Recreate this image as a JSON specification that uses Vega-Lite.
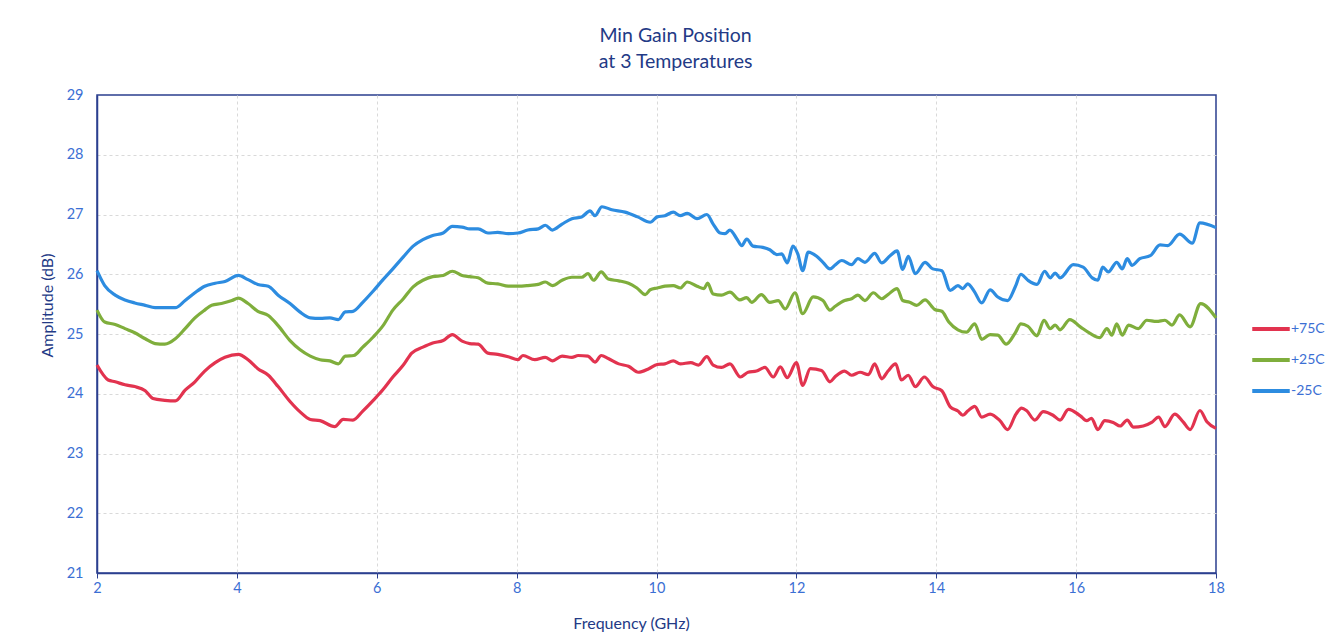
{
"$schema":"https://vega.github.io/schema/vega-lite/v6.json",
"autosize":{"type":"none"},
"padding":{"left":97,"top":95,"right":124,"bottom":66},
"width":1119,"height":478,
"background":"white",
"config":{"font":"Lato","view":{"stroke":"#2b3f8f","strokeWidth":1.5}},
"title":{"text":["Min Gain Position","at 3 Temperatures"],"fontSize":19.5,"fontWeight":"normal","color":"#233a86","lineHeight":26,"offset":15,"anchor":"middle","dx":19,"font":"Lato"},
"datasets":{
"b":[[2.00,26.06],[2.11,25.81],[2.26,25.65],[2.40,25.57],[2.54,25.52],[2.69,25.48],[2.83,25.44],[2.97,25.44],[3.12,25.44],[3.26,25.56],[3.40,25.69],[3.54,25.80],[3.69,25.85],[3.83,25.88],[4.02,25.98],[4.16,25.91],[4.30,25.83],[4.45,25.80],[4.59,25.65],[4.76,25.51],[4.90,25.37],[5.05,25.27],[5.19,25.26],[5.33,25.27],[5.45,25.24],[5.55,25.37],[5.66,25.38],[5.80,25.53],[5.95,25.72],[6.09,25.91],[6.23,26.09],[6.38,26.29],[6.52,26.47],[6.66,26.58],[6.80,26.65],[6.95,26.69],[7.08,26.80],[7.22,26.79],[7.33,26.76],[7.45,26.76],[7.59,26.69],[7.73,26.70],[7.88,26.68],[8.02,26.69],[8.16,26.74],[8.31,26.76],[8.41,26.82],[8.51,26.74],[8.65,26.84],[8.79,26.93],[8.93,26.96],[9.05,27.06],[9.12,26.98],[9.22,27.13],[9.36,27.08],[9.55,27.04],[9.73,26.96],[9.91,26.87],[10.01,26.96],[10.12,26.98],[10.24,27.04],[10.34,26.98],[10.44,27.02],[10.58,26.93],[10.72,27.00],[10.81,26.84],[10.91,26.69],[10.98,26.68],[11.05,26.74],[11.15,26.59],[11.22,26.48],[11.29,26.59],[11.38,26.47],[11.52,26.45],[11.62,26.41],[11.72,26.33],[11.79,26.34],[11.87,26.19],[11.95,26.47],[12.02,26.34],[12.09,26.06],[12.17,26.37],[12.29,26.30],[12.38,26.20],[12.48,26.09],[12.55,26.15],[12.65,26.23],[12.79,26.16],[12.88,26.26],[12.98,26.20],[13.12,26.35],[13.22,26.19],[13.34,26.31],[13.44,26.39],[13.52,26.08],[13.60,26.30],[13.70,26.01],[13.84,26.20],[13.95,26.09],[14.08,26.06],[14.20,25.73],[14.31,25.81],[14.38,25.76],[14.45,25.84],[14.55,25.70],[14.65,25.52],[14.77,25.74],[14.88,25.62],[15.02,25.56],[15.13,25.79],[15.21,26.00],[15.31,25.90],[15.44,25.83],[15.55,26.05],[15.63,25.94],[15.70,26.02],[15.77,25.94],[15.96,26.16],[16.10,26.12],[16.23,25.94],[16.31,25.90],[16.38,26.12],[16.46,26.04],[16.58,26.20],[16.66,26.09],[16.73,26.26],[16.80,26.15],[16.91,26.26],[17.06,26.31],[17.20,26.49],[17.31,26.48],[17.48,26.67],[17.66,26.52],[17.77,26.86],[18.00,26.78]],
"g":[[2.00,25.40],[2.11,25.20],[2.26,25.16],[2.40,25.09],[2.54,25.02],[2.69,24.92],[2.83,24.84],[2.97,24.83],[3.12,24.92],[3.26,25.09],[3.40,25.27],[3.54,25.40],[3.64,25.48],[3.78,25.51],[3.93,25.56],[4.02,25.60],[4.16,25.51],[4.30,25.38],[4.45,25.31],[4.59,25.14],[4.76,24.89],[4.90,24.74],[5.05,24.63],[5.19,24.57],[5.33,24.55],[5.45,24.50],[5.55,24.63],[5.67,24.64],[5.80,24.78],[5.95,24.95],[6.09,25.14],[6.23,25.40],[6.38,25.59],[6.52,25.79],[6.66,25.90],[6.80,25.96],[6.95,25.98],[7.08,26.05],[7.22,25.98],[7.33,25.96],[7.45,25.94],[7.59,25.85],[7.73,25.84],[7.88,25.80],[8.02,25.80],[8.16,25.81],[8.31,25.83],[8.41,25.87],[8.51,25.81],[8.65,25.90],[8.79,25.95],[8.93,25.95],[9.02,26.01],[9.10,25.90],[9.21,26.04],[9.31,25.92],[9.46,25.89],[9.60,25.85],[9.72,25.77],[9.84,25.66],[9.91,25.74],[10.01,25.77],[10.12,25.80],[10.24,25.81],[10.34,25.77],[10.44,25.87],[10.58,25.80],[10.68,25.76],[10.73,25.85],[10.81,25.67],[10.93,25.65],[11.05,25.70],[11.19,25.57],[11.29,25.61],[11.36,25.53],[11.50,25.66],[11.62,25.53],[11.74,25.56],[11.84,25.42],[11.98,25.69],[12.09,25.34],[12.24,25.62],[12.38,25.56],[12.48,25.40],[12.55,25.46],[12.69,25.56],[12.79,25.59],[12.88,25.65],[12.98,25.56],[13.10,25.69],[13.22,25.59],[13.31,25.66],[13.44,25.76],[13.52,25.56],[13.62,25.53],[13.72,25.48],[13.84,25.57],[13.98,25.41],[14.08,25.38],[14.18,25.20],[14.31,25.07],[14.43,25.03],[14.55,25.17],[14.65,24.91],[14.77,24.99],[14.88,24.98],[15.00,24.83],[15.13,25.02],[15.21,25.17],[15.31,25.13],[15.44,24.97],[15.54,25.23],[15.63,25.09],[15.70,25.15],[15.77,25.07],[15.91,25.24],[16.06,25.12],[16.20,25.01],[16.34,24.94],[16.44,25.09],[16.51,24.98],[16.58,25.17],[16.66,24.98],[16.75,25.15],[16.89,25.09],[17.01,25.23],[17.15,25.21],[17.27,25.23],[17.37,25.15],[17.48,25.32],[17.63,25.12],[17.78,25.51],[18.00,25.27]],
"r":[[2.00,24.48],[2.16,24.23],[2.26,24.20],[2.40,24.15],[2.54,24.12],[2.69,24.05],[2.80,23.92],[2.97,23.89],[3.12,23.88],[3.26,24.06],[3.40,24.20],[3.54,24.38],[3.69,24.52],[3.83,24.61],[4.02,24.66],[4.16,24.57],[4.30,24.42],[4.45,24.31],[4.59,24.12],[4.76,23.87],[4.90,23.70],[5.05,23.57],[5.19,23.55],[5.40,23.45],[5.52,23.57],[5.66,23.56],[5.80,23.71],[5.95,23.89],[6.09,24.07],[6.23,24.28],[6.38,24.48],[6.50,24.68],[6.66,24.78],[6.80,24.85],[6.95,24.89],[7.08,24.99],[7.22,24.88],[7.33,24.84],[7.45,24.83],[7.59,24.68],[7.73,24.66],[7.88,24.62],[8.02,24.57],[8.09,24.64],[8.26,24.57],[8.41,24.61],[8.51,24.55],[8.65,24.63],[8.79,24.61],[8.88,24.64],[9.02,24.63],[9.12,24.53],[9.21,24.64],[9.31,24.59],[9.46,24.50],[9.60,24.46],[9.74,24.36],[9.89,24.42],[10.01,24.49],[10.12,24.50],[10.24,24.55],[10.34,24.50],[10.49,24.52],[10.60,24.48],[10.72,24.62],[10.81,24.48],[10.93,24.44],[11.05,24.50],[11.20,24.28],[11.31,24.36],[11.43,24.38],[11.55,24.44],[11.67,24.28],[11.77,24.45],[11.87,24.27],[12.00,24.52],[12.09,24.14],[12.20,24.42],[12.36,24.39],[12.48,24.20],[12.55,24.28],[12.69,24.38],[12.79,24.31],[12.91,24.36],[13.03,24.32],[13.12,24.50],[13.22,24.25],[13.31,24.38],[13.42,24.50],[13.50,24.23],[13.60,24.31],[13.70,24.12],[13.83,24.28],[13.95,24.12],[14.08,24.05],[14.20,23.78],[14.31,23.71],[14.38,23.64],[14.45,23.71],[14.55,23.79],[14.65,23.61],[14.77,23.66],[14.91,23.55],[15.02,23.40],[15.14,23.66],[15.22,23.76],[15.29,23.72],[15.41,23.56],[15.53,23.70],[15.67,23.64],[15.77,23.56],[15.89,23.74],[16.06,23.63],[16.15,23.55],[16.22,23.59],[16.31,23.40],[16.41,23.55],[16.53,23.52],[16.63,23.46],[16.73,23.56],[16.82,23.44],[16.96,23.46],[17.08,23.52],[17.18,23.61],[17.27,23.45],[17.41,23.66],[17.53,23.53],[17.63,23.40],[17.77,23.72],[17.87,23.53],[18.00,23.42]]
},
"layer":[
{"data":{"name":"r"},"transform":[{"calculate":"'+75C'","as":"s"}],"mark":{"type":"line","interpolate":"monotone","strokeWidth":3.2},
 "encoding":{"x":{"field":"0","type":"quantitative"},"y":{"field":"1","type":"quantitative"},"color":{"field":"s","type":"nominal"}}},
{"data":{"name":"g"},"transform":[{"calculate":"'+25C'","as":"s"}],"mark":{"type":"line","interpolate":"monotone","strokeWidth":3.2},
 "encoding":{"x":{"field":"0","type":"quantitative"},"y":{"field":"1","type":"quantitative"},"color":{"field":"s","type":"nominal"}}},
{"data":{"name":"b"},"transform":[{"calculate":"'-25C'","as":"s"}],"mark":{"type":"line","interpolate":"monotone","strokeWidth":3.2},
 "encoding":{"x":{"field":"0","type":"quantitative","scale":{"domain":[2,18],"nice":false},
   "axis":{"title":"Frequency (GHz)","values":[2,4,6,8,10,12,14,16,18],"format":"d","labelFlush":false,"grid":true,"gridColor":{"condition":{"test":"datum.value==18 || datum.value==2","value":"transparent"},"value":"#d9d9d9"},"gridDash":[3,3],"domainColor":"#2b3f8f","domainWidth":1.5,"tickColor":"#2b3f8f","tickSize":5,"labelColor":"#3b6fd4","labelFontSize":14.5,"labelFont":"Lato","labelPadding":3,"titleColor":"#233a86","titleFontSize":16,"titleFontWeight":"normal","titleFont":"Lato","titleX":534,"titleY":55,"titleBaseline":"alphabetic"}},
  "y":{"field":"1","type":"quantitative","scale":{"domain":[21,29],"nice":false,"zero":false},
   "axis":{"title":"Amplitude (dB)","values":[21,22,23,24,25,26,27,28,29],"format":"d","labelFlush":false,"grid":true,"gridColor":{"condition":{"test":"datum.value==29 || datum.value==21","value":"transparent"},"value":"#d9d9d9"},"gridDash":[3,3],"domainColor":"#2b3f8f","domainWidth":1.5,"ticks":false,"labelColor":"#3b6fd4","labelFontSize":14.5,"labelFont":"Lato","labelPadding":14,"titleColor":"#233a86","titleFontSize":16,"titleFontWeight":"normal","titleFont":"Lato","titleX":-50,"titleY":210,"titleAlign":"center","titleBaseline":"middle","titleAngle":270}},
  "color":{"field":"s","type":"nominal","scale":{"domain":["+75C","+25C","-25C"],"range":["#e2334f","#7fae3c","#2d8ce0"]},
   "legend":{"title":null,"orient":"none","legendX":1157,"legendY":217,"padding":0,"symbolType":"M-1.25,0L1.25,0","symbolSize":900,"symbolStrokeWidth":4,"rowPadding":6,"labelOffset":3,"labelColor":"#3b6fd4","labelFontSize":14,"labelFont":"Lato"}}}}
]
}
